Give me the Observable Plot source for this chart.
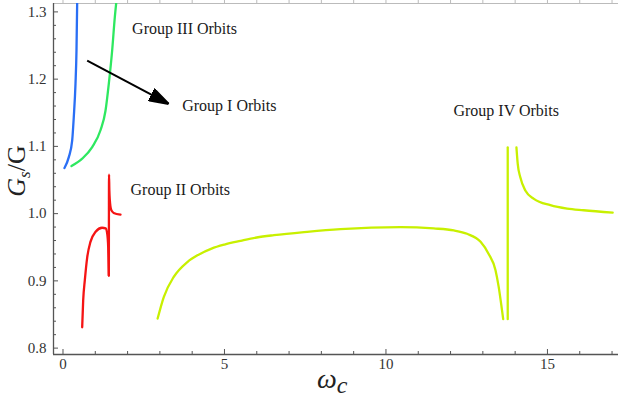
<!DOCTYPE html>
<html><head><meta charset="utf-8">
<script src="https://cdn.jsdelivr.net/npm/d3@7"></script>
<script src="https://cdn.jsdelivr.net/npm/@observablehq/plot@0.6"></script>
<style>body{margin:0;background:#fff}#chart svg{display:block}</style>
</head><body><div id="chart"></div>
<script>
// ---- data ----
const blueW  = [0.046, 0.18, 0.285, 0.334, 0.387, 0.418, 0.44];
const blueG  = [1.0678, 1.084, 1.109, 1.1435, 1.193, 1.243, 1.317];
const greenW = [0.263, 0.594, 0.904, 1.161, 1.316, 1.418, 1.523, 1.604, 1.656];
const greenG = [1.0707, 1.0817, 1.099, 1.124, 1.153, 1.193, 1.243, 1.292, 1.317];
const redW1  = [0.594, 0.625, 0.676, 0.75, 0.85, 1.01, 1.21, 1.32, 1.37, 1.40, 1.42];
const redG1  = [0.831, 0.871, 0.901, 0.935, 0.958, 0.973, 0.979, 0.978, 0.970, 0.950, 0.908];
const redW2  = [1.42, 1.425, 1.435, 1.45, 1.49, 1.57, 1.78];
const redG2  = [0.908, 1.058, 1.035, 1.020, 1.006, 1.001, 0.9985];
const yelW1  = [2.93, 3.12, 3.43, 3.85, 4.2, 4.6, 5.0, 5.5, 6.0, 6.53, 7.56, 8.59, 10.45, 11.48, 12.1, 12.51, 12.93, 13.18, 13.39, 13.49, 13.58, 13.63];
const yelG1  = [0.844, 0.876, 0.906, 0.928, 0.939, 0.948, 0.954, 0.9595, 0.9645, 0.968, 0.973, 0.977, 0.980, 0.978, 0.975, 0.970, 0.958, 0.940, 0.916, 0.891, 0.861, 0.843];
const yelW2  = [13.77, 13.77];
const yelG2  = [0.843, 1.0985];
const yelW3  = [14.04, 14.08, 14.16, 14.32, 14.58, 15.09, 15.61, 16.12, 17.02];
const yelG3  = [1.0985, 1.074, 1.054, 1.034, 1.022, 1.0125, 1.0074, 1.005, 1.0015];

const labelText = ["Group III Orbits", "Group I Orbits", "Group II Orbits", "Group IV Orbits"];
const labelW    = [2.14, 3.69, 2.09, 12.09];
const labelG    = [1.2753, 1.1608, 1.0346, 1.1535];

const arrowW = [0.749, 3.276];
const arrowG = [1.2274, 1.1631];

const xTicks = [0, 5, 10, 15];
const xMinor = [1, 2, 3, 4, 6, 7, 8, 9, 11, 12, 13, 14, 16, 17];
const yTicks = [0.8, 0.9, 1.0, 1.1, 1.2, 1.3];
const yMinor = [0.82,0.84,0.86,0.88,0.92,0.94,0.96,0.98,1.02,1.04,1.06,1.08,1.12,1.14,1.16,1.18,1.22,1.24,1.26,1.28];

const xDomain = [-0.294, 17.2];
const yDomain = [0.7905, 1.3125];

// ---- build tables ----
const colors = {blue: "#2a6ff5", green: "#2ee860", red: "#f51414", yellow: "#c8f000"};
function pts(ws, gs, series, seg) { return ws.map((w, i) => ({w, g: gs[i], series, seg})); }
const smoothCurves = [
  ...pts(blueW, blueG, "blue", "b"),
  ...pts(greenW, greenG, "green", "g"),
  ...pts(redW1, redG1, "red", "r1"),
  ...pts(redW2, redG2, "red", "r2"),
  ...pts(yelW1, yelG1, "yellow", "y1"),
  ...pts(yelW3, yelG3, "yellow", "y3")
];
const straightCurves = pts(yelW2, yelG2, "yellow", "y2");
const labels = labelText.map((t, i) => ({t, w: labelW[i], g: labelG[i]}));
const arrowData = [{x1: arrowW[0], y1: arrowG[0], x2: arrowW[1], y2: arrowG[1]}];

const W = 620, H = 403, mL = 53, mR = 2, mT = 3, mB = 49;
const xPerPx = (xDomain[1] - xDomain[0]) / (W - mL - mR);
const yPerPx = (yDomain[1] - yDomain[0]) / (H - mT - mB);

function filledArrow(color) {
  const ns = "http://www.w3.org/2000/svg";
  const m = document.createElementNS(ns, "marker");
  m.setAttribute("viewBox", "-20 -7 20 14");
  m.setAttribute("markerWidth", "20");
  m.setAttribute("markerHeight", "14");
  m.setAttribute("markerUnits", "userSpaceOnUse");
  m.setAttribute("orient", "auto");
  m.setAttribute("refX", "0");
  m.setAttribute("refY", "0");
  const p = document.createElementNS(ns, "path");
  p.setAttribute("d", "M-20,-6.5L0,0L-20,6.5Z");
  p.setAttribute("fill", color);
  m.appendChild(p);
  return m;
}

function build(useMarker) {
  const axisColor = "#555";
  return Plot.plot({
    width: W, height: H,
    marginLeft: mL, marginRight: mR, marginTop: mT, marginBottom: mB,
    style: {fontFamily: "'Liberation Serif', 'Times New Roman', serif", fontSize: "15px", color: "#333", background: "#fff"},
    x: {domain: xDomain},
    y: {domain: yDomain},
    marks: [
      Plot.axisX(xTicks, {tickSize: 0, tickPadding: 4, label: null, fontSize: 15, fill: "#333"}),
      Plot.axisY(yTicks, {tickSize: 0, tickPadding: 7, label: null, fontSize: 15, fill: "#333", tickFormat: d3.format(".1f")}),
      // inward ticks
      Plot.ruleY(yTicks, {y: d => d, x1: xDomain[0], x2: xDomain[0] + 5 * xPerPx, stroke: axisColor, strokeWidth: 1}),
      Plot.ruleY(yMinor, {y: d => d, x1: xDomain[0], x2: xDomain[0] + 3 * xPerPx, stroke: axisColor, strokeWidth: 1}),
      Plot.ruleX(xTicks, {x: d => d, y1: yDomain[0], y2: yDomain[0] + 5 * yPerPx, stroke: axisColor, strokeWidth: 1}),
      Plot.ruleX(xMinor, {x: d => d, y1: yDomain[0], y2: yDomain[0] + 3 * yPerPx, stroke: axisColor, strokeWidth: 1}),
      // faint top frame with small ticks
      Plot.ruleX([...xTicks, ...xMinor], {x: d => d, y1: yDomain[1], y2: yDomain[1] + 3 * yPerPx, stroke: "#bbb", strokeWidth: 1}),
      Plot.ruleY([yDomain[1]], {stroke: "#bbb", strokeWidth: 1}),
      Plot.ruleX([xDomain[0]], {stroke: axisColor, strokeWidth: 1.3}),
      Plot.ruleY([yDomain[0]], {stroke: axisColor, strokeWidth: 1.3}),
      Plot.line(smoothCurves, {x: "w", y: "g", z: "seg", stroke: d => colors[d.series], strokeWidth: 2.3, curve: "monotone-x", clip: true}),
      Plot.line(straightCurves, {x: "w", y: "g", z: "seg", stroke: d => colors[d.series], strokeWidth: 2.3, clip: true}),
      useMarker
        ? Plot.link(arrowData, {x1: "x1", y1: "y1", x2: "x2", y2: "y2", stroke: "#000", strokeWidth: 2, markerEnd: filledArrow})
        : Plot.arrow(arrowData, {x1: "x1", y1: "y1", x2: "x2", y2: "y2", stroke: "#000", strokeWidth: 2, headLength: 14}),
      Plot.text(labels, {x: "w", y: "g", text: "t", textAnchor: "start", fontSize: 16, fill: "#1a1a1a"})
    ]
  });
}

let svg;
try { svg = build(true); } catch (e) { svg = build(false); }
document.getElementById("chart").appendChild(svg);

// axis titles with subscripts
const s = d3.select(svg);
const fam = "'Liberation Serif', 'Times New Roman', serif";
const xl = s.append("text").attr("x", 317).attr("y", 388).attr("text-anchor", "start")
  .attr("font-family", fam).attr("font-size", 28).attr("fill", "#222");
xl.append("tspan").attr("font-style", "italic").text("ω");
xl.append("tspan").attr("font-style", "italic").attr("font-size", 24).attr("dy", 5).text("c");

const yl = s.append("text").attr("transform", "translate(25,171) rotate(-90)").attr("text-anchor", "middle")
  .attr("font-family", fam).attr("font-size", 26).attr("fill", "#222");
yl.append("tspan").attr("font-style", "italic").text("G");
yl.append("tspan").attr("font-style", "italic").attr("font-size", 17).attr("dy", 5).text("s");
yl.append("tspan").attr("dy", -5).text("/G");
</script>
</body></html>
